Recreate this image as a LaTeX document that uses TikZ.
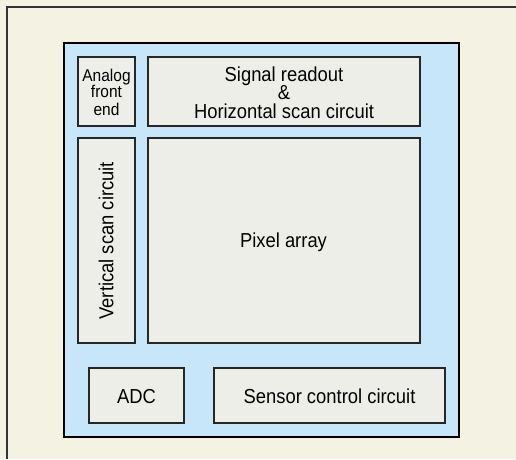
\documentclass[tikz,border=0pt]{standalone}
\usepackage{fontspec}
\usepackage{graphicx}
\setmainfont{Liberation Sans}
\definecolor{cream}{HTML}{F4F2E2}
\definecolor{chipblue}{HTML}{C8E6F9}
\definecolor{boxgray}{HTML}{EEEEE9}
\definecolor{framegray}{HTML}{333333}
\newcommand{\tl}[1]{\scalebox{1}[1.1]{#1}}
\begin{document}
\begin{tikzpicture}[x=1pt,y=-1pt,
  blk/.style={draw=black!85,line width=1.2pt,fill=boxgray,inner sep=0pt},
  lbl/.style={anchor=base,inner sep=0pt,font=\fontsize{18.4}{18}\selectfont},
  slbl/.style={anchor=base,inner sep=0pt,font=\fontsize{15.5}{16}\selectfont}]
\useasboundingbox (0,0) rectangle (516,459);
\fill[cream] (0,0) rectangle (516,459);
\draw[framegray,line width=1.3pt] (7,459) -- (7,7) -- (516,7);
\draw[black,line width=2.5pt,fill=chipblue] (64,43) rectangle (459,437);
\node[blk,minimum width=57pt,minimum height=69pt] (afe) at (106.5,91.5) {};
\node[slbl] (afe1) at (106.5,81) {\tl{Analog}};
\node[slbl] (afe2) at (106.5,97.8) {\tl{front}};
\node[slbl] (afe3) at (106.5,115) {\tl{end}};
\node[blk,minimum width=272pt,minimum height=69pt] (sig) at (284,91.5) {};
\node[lbl] (sig1) at (284,81) {\tl{Signal readout}};
\node[lbl] (sig2) at (284,99.5) {\tl{\&}};
\node[lbl] (sig3) at (284,118) {\tl{Horizontal scan circuit}};
\node[blk,minimum width=57pt,minimum height=205pt] (vsc) at (106.5,240.5) {};
\node[lbl,rotate=90] (vsclab) at (113.3,240.8) {\tl{Vertical scan circuit}};
\node[blk,minimum width=272pt,minimum height=205pt] (pix) at (284,240.5) {};
\node[lbl] (pixlab) at (283.5,247.7) {\tl{Pixel array}};
\node[blk,minimum width=95pt,minimum height=55pt] (adc) at (136.5,395.5) {};
\node[lbl] (adclab) at (136.5,403) {\tl{ADC}};
\node[blk,minimum width=231pt,minimum height=55pt] (scc) at (329.5,395.5) {};
\node[lbl] (scclab) at (329.5,403.5) {\tl{Sensor control circuit}};
\end{tikzpicture}
\end{document}
